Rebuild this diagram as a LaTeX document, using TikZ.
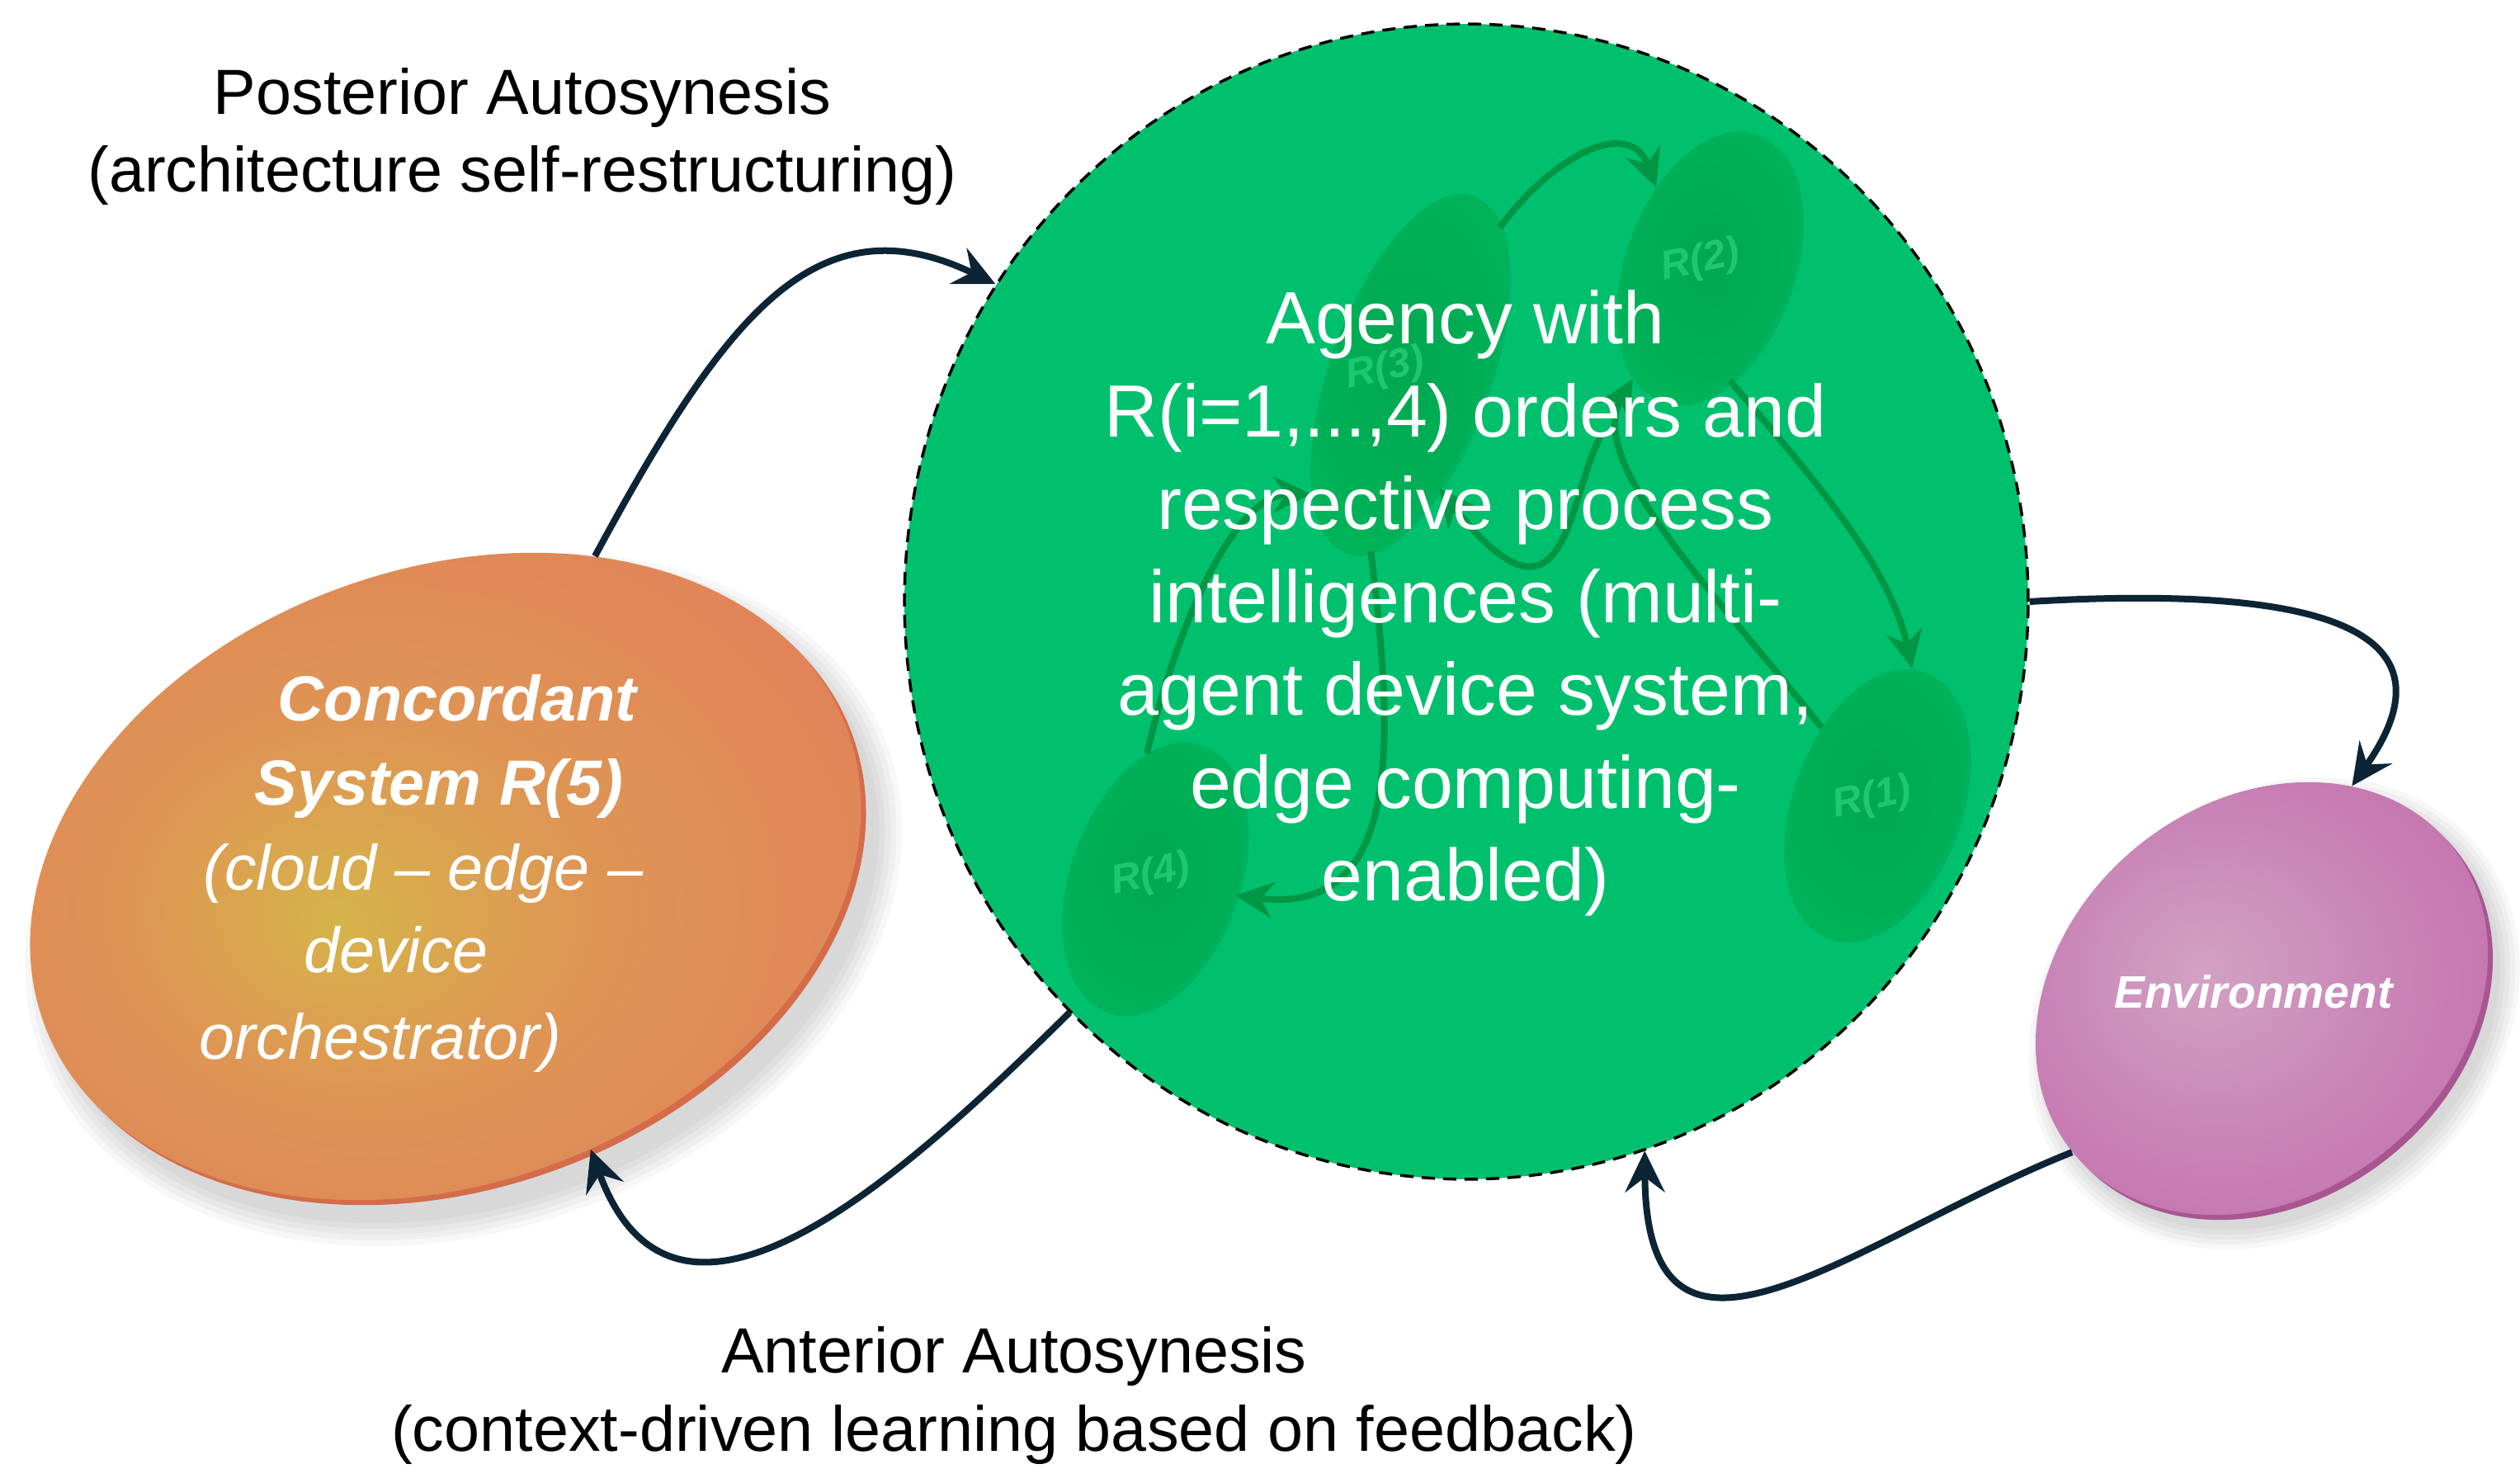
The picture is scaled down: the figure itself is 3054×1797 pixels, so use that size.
\documentclass[tikz,border=0pt]{standalone}
\usepackage{fontspec}
\setmainfont{Liberation Sans}
\usetikzlibrary{shapes.geometric,arrows.meta}
\definecolor{agreen}{RGB}{0,192,110}
\definecolor{rgreen}{RGB}{0,178,88}
\definecolor{rgreenin}{RGB}{0,168,80}
\definecolor{rrim}{RGB}{0,162,78}
\definecolor{rlabel}{RGB}{30,200,112}
\definecolor{iarrow}{RGB}{0,150,68}
\definecolor{navy}{RGB}{12,36,52}
\definecolor{orY}{RGB}{214,180,74}
\definecolor{orM}{RGB}{222,150,84}
\definecolor{orO}{RGB}{225,130,90}
\definecolor{orE}{RGB}{206,120,90}
\definecolor{orRim}{RGB}{212,108,74}
\definecolor{pkC}{RGB}{210,162,196}
\definecolor{pkM}{RGB}{200,130,182}
\definecolor{pkO}{RGB}{194,105,168}
\definecolor{pkE}{RGB}{192,100,166}
\definecolor{pkRim}{RGB}{168,86,146}
\pgfdeclareradialshading{orshade}{\pgfpoint{-6bp}{-3bp}}{color(0bp)=(orY); color(12bp)=(orM); color(30bp)=(orO); color(46bp)=(orO); color(50bp)=(orE)}
\pgfdeclareradialshading{pkshade}{\pgfpoint{-6bp}{3bp}}{color(0bp)=(pkC); color(18bp)=(pkM); color(36bp)=(pkO); color(50bp)=(pkE)}
\tikzset{
  agencydisc/.style={ellipse, inner sep=0pt, minimum width=13.61cm, minimum height=13.99cm,
    fill=agreen, draw=black, line width=0.035cm, dash pattern=on 0.16cm off 0.1cm},
  rdisc/.style={ellipse, inner sep=0pt, rotate=70, minimum width=3.42cm, minimum height=2.0cm,
    shading=radial, inner color=rgreenin, outer color=rgreen, opacity=0.9},
  rdiscrim/.style={ellipse, inner sep=0pt, rotate=70, minimum width=3.42cm, minimum height=2.0cm,
    fill=rrim, opacity=0.45},
  rlab/.style={text=rlabel, inner sep=0pt, rotate=12, font=\fontsize{14}{16}\selectfont\bfseries\itshape},
  innerarrow/.style={draw=iarrow, line width=0.08cm, -{Stealth[length=0.46cm,width=0.44cm,inset=0.15cm]}},
  navyarrow/.style={draw=navy, line width=0.08cm, -{Stealth[length=0.5cm,width=0.48cm,inset=0.18cm]}},
  agencytext/.style={text=white, align=center, inner sep=0pt, font=\fontsize{25.5}{32}\selectfont},
  ortext/.style={text=white, anchor=base, inner sep=0pt, font=\fontsize{22}{27}\selectfont\itshape},
  orbold/.style={ortext, font=\fontsize{22}{27}\selectfont\bfseries\itshape},
  outerlab/.style={anchor=base, inner sep=0pt, font=\fontsize{22}{27}\selectfont},
  ordisc/.style={ellipse, inner sep=0pt, rotate=20, minimum width=10.36cm, minimum height=7.44cm},
  pkdisc/.style={ellipse, inner sep=0pt, rotate=39, minimum width=5.9cm, minimum height=4.76cm}
}
\begin{document}
\begin{tikzpicture}[x=0.01cm, y=-0.01cm]
\useasboundingbox (0,0) rectangle (3054,1797);
\fill[white] (0,0) rectangle (3054,1797);

% ---- Agency circle ----
\node[agencydisc] (green) at (1777,729) {};

% inner discs (rims then faces)
\node[rdiscrim, minimum width=4.58cm, minimum height=1.9cm] (r3rim) at (1712,456) {};
\node[rdiscrim] (r2rim) at (2075,327) {};
\node[rdiscrim] (r1rim) at (2278,978) {};
\node[rdiscrim] (r4rim) at (1403,1067) {};
\node[rdisc, minimum width=4.58cm, minimum height=1.9cm] (r3) at (1707,453) {};
\node[rdisc] (r2) at (2070,324) {};
\node[rdisc] (r1) at (2273,975) {};
\node[rdisc] (r4) at (1398,1064) {};

\node[rlab] (l2) at (2061,317) {R(2)};
\node[rlab] (l3) at (1679,448) {R(3)};
\node[rlab] (l1) at (2269,968) {R(1)};
\node[rlab] (l4) at (1395,1061) {R(4)};

% inner arrows
\draw[innerarrow] (r3.-12) .. controls (1880,190) and (1975,140) .. (r2.53);
\draw[innerarrow] (r2.-149) .. controls (2180,560) and (2290,680) .. (r1.5);
\draw[innerarrow] (r1.55) .. controls (2080,720) and (1920,560) .. (r2.166);
\draw[innerarrow, shorten <=0.8cm] (r2.166) .. controls (1900,600) and (1900,790) .. (r3.-145);
\draw[innerarrow] (r4.23) .. controls (1420,780) and (1490,600) .. (r3.161);
\draw[innerarrow] (r3.-172) .. controls (1690,900) and (1700,1110) .. (r4.-82);

\node[agencytext] (agency) at (1776,731) {Agency with\\R(i=1,...,4) orders and\\respective process\\intelligences (multi-\\agent device system,\\edge computing-\\enabled)};

% ---- Concordant system disc ----
\foreach \k in {0,...,4} {
  \fill[black, opacity=0.03, rotate around={20:(562,1090)}] (562,1090) ellipse [x radius={5.18cm+\k*0.07cm}, y radius={3.72cm+\k*0.07cm}];
}
\node[ordisc, fill=orRim] (orrim) at (546,1068) {};
\node[ordisc, shading=orshade] (orange) at (540,1062) {};
\node[orbold] (o1) at (554,873) {Concordant};
\node[orbold] (o2) at (532,975) {System R(5)};
\node[ortext] (o3) at (513,1078) {(cloud – edge –};
\node[ortext] (o4) at (480,1178) {device};
\node[ortext] (o5) at (461,1283) {orchestrator)};

% ---- Environment disc ----
\foreach \k in {0,...,4} {
  \fill[black, opacity=0.03, rotate around={39:(2756,1228)}] (2756,1228) ellipse [x radius={2.95cm+\k*0.06cm}, y radius={2.38cm+\k*0.06cm}];
}
\node[pkdisc, fill=pkRim] (envrim) at (2747,1216) {};
\node[pkdisc, shading=pkshade] (env) at (2741,1210) {};
\node[text=white, anchor=base, inner sep=0pt, font=\fontsize{15.7}{19}\selectfont\bfseries\itshape] (envtext) at (2731,1221) {Environment};

% ---- outer connectors ----
\draw[navyarrow] (orange.45) .. controls (880,380) and (990,240) .. (green.146);
\draw[navyarrow] (green.0) .. controls (2750,712) and (3000,740) .. (env.28);
\draw[navyarrow] (env.180) .. controls (2250,1500) and (1995,1720) .. (green.-72);
\draw[navyarrow] (green.226) .. controls (1100,1420) and (820,1680) .. (orange.-82);

% ---- outer labels ----
\node[outerlab] (post1) at (633,139) {Posterior Autosynesis};
\node[outerlab] (post2) at (633,233) {(architecture self-restructuring)};
\node[outerlab] (ant1) at (1229,1663) {Anterior Autosynesis};
\node[outerlab] (ant2) at (1229,1758) {(context-driven learning based on feedback)};
\end{tikzpicture}
\end{document}
